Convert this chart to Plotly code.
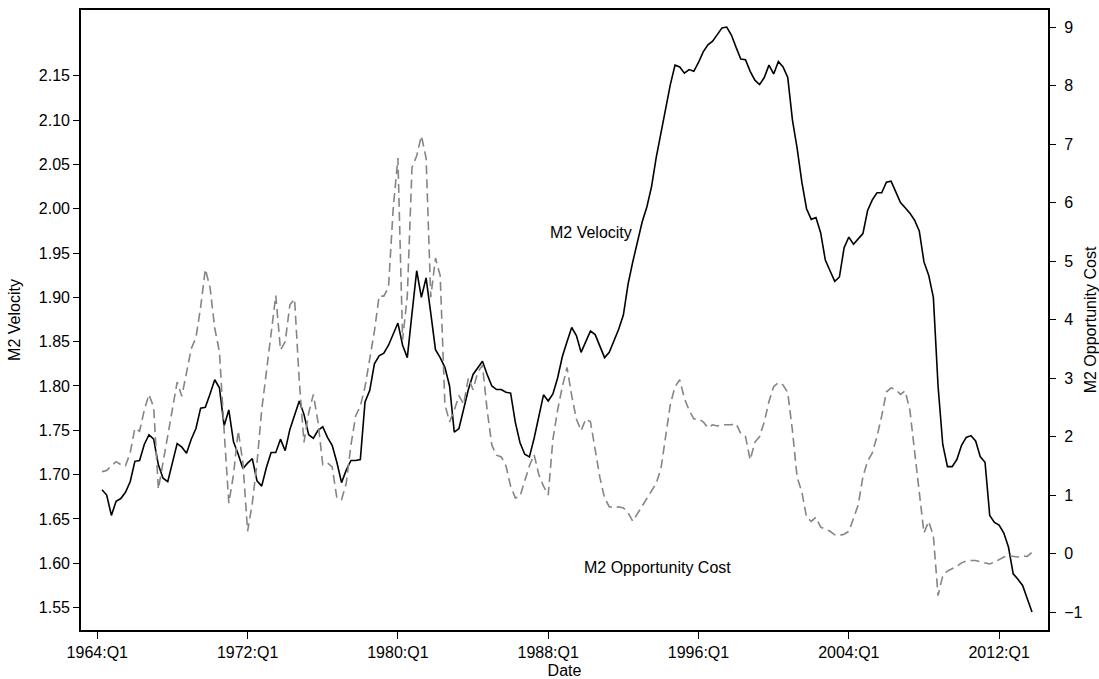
import plotly.graph_objects as go

# Quarterly sample: 1964:Q2 through 2013:Q4
start_year, start_quarter, n_obs = 1964, 2, 199
quarters = []
y, q = start_year, start_quarter
for _ in range(n_obs):
    quarters.append(f"{y}:Q{q}")
    q += 1
    if q > 4:
        q, y = 1, y + 1

m2_velocity = [
    1.683, 1.677, 1.654, 1.670, 1.673, 1.680, 1.692, 1.715, 1.716, 1.734,
    1.745, 1.740, 1.711, 1.696, 1.692, 1.714, 1.735, 1.731, 1.724, 1.740,
    1.752, 1.775, 1.776, 1.791, 1.807, 1.798, 1.755, 1.773, 1.737, 1.723,
    1.707, 1.713, 1.718, 1.693, 1.687, 1.708, 1.725, 1.725, 1.740, 1.727,
    1.751, 1.767, 1.783, 1.768, 1.745, 1.741, 1.750, 1.754, 1.742, 1.733,
    1.714, 1.691, 1.705, 1.716, 1.716, 1.717, 1.782, 1.795, 1.825, 1.834,
    1.837, 1.846, 1.859, 1.871, 1.846, 1.832, 1.882, 1.930, 1.900, 1.922,
    1.882, 1.841, 1.832, 1.821, 1.800, 1.748, 1.752, 1.775, 1.796, 1.813,
    1.821, 1.828, 1.813, 1.800, 1.796, 1.796, 1.793, 1.792, 1.759, 1.736,
    1.723, 1.720, 1.741, 1.764, 1.790, 1.783, 1.791, 1.809, 1.833, 1.850,
    1.866, 1.857, 1.838, 1.850, 1.862, 1.858, 1.845, 1.832, 1.838, 1.850,
    1.864, 1.880, 1.915, 1.940, 1.962, 1.985, 2.002, 2.025, 2.058, 2.085,
    2.110, 2.140, 2.162, 2.160, 2.153, 2.157, 2.155, 2.165, 2.177, 2.185,
    2.189, 2.196, 2.204, 2.205, 2.196, 2.182, 2.169, 2.168, 2.155, 2.145,
    2.140, 2.148, 2.162, 2.152, 2.166, 2.160, 2.148, 2.100, 2.068, 2.030,
    2.000, 1.988, 1.990, 1.973, 1.942, 1.930, 1.918, 1.923, 1.956, 1.968,
    1.960, 1.966, 1.972, 1.998, 2.010, 2.018, 2.018, 2.030, 2.031, 2.019,
    2.007, 2.001, 1.995, 1.987, 1.975, 1.940, 1.925, 1.900, 1.800, 1.734,
    1.709, 1.709, 1.717, 1.733, 1.742, 1.744, 1.738, 1.720, 1.714, 1.654,
    1.646, 1.643, 1.634, 1.618, 1.588, 1.582, 1.575, 1.560, 1.545,
]

m2_opportunity_cost = [
    1.40, 1.42, 1.50, 1.57, 1.52, 1.50, 1.72, 2.14, 2.09, 2.45,
    2.72, 2.50, 1.10, 1.55, 2.03, 2.45, 2.93, 2.69, 3.11, 3.50,
    3.69, 4.21, 4.86, 4.55, 3.85, 3.45, 2.10, 0.86, 1.35, 2.10,
    1.55, 0.38, 0.86, 1.55, 2.45, 3.14, 3.75, 4.41, 3.48, 3.62,
    4.25, 4.35, 2.95, 1.90, 2.40, 2.72, 2.24, 1.52, 1.55, 1.48,
    0.95, 0.92, 1.20, 1.85, 2.35, 2.52, 2.85, 3.35, 3.80, 4.40,
    4.40, 4.55, 5.90, 6.76, 3.65, 4.40, 6.60, 6.80, 7.14, 6.76,
    4.38, 5.05, 4.75, 2.55, 2.25, 2.45, 2.70, 2.55, 3.00, 2.80,
    3.10, 3.22, 2.45, 1.85, 1.68, 1.65, 1.50, 1.15, 0.95, 0.98,
    1.25, 1.50, 1.69, 1.35, 1.15, 1.00, 1.95, 2.45, 2.85, 3.18,
    2.70, 2.30, 2.10, 2.30, 2.25, 1.75, 1.30, 0.95, 0.80, 0.78,
    0.80, 0.78, 0.70, 0.55, 0.68, 0.80, 0.92, 1.05, 1.20, 1.45,
    2.00, 2.55, 2.85, 2.97, 2.65, 2.45, 2.30, 2.30, 2.25, 2.15,
    2.20, 2.18, 2.20, 2.20, 2.20, 2.22, 2.05, 2.00, 1.60, 1.90,
    2.00, 2.25, 2.60, 2.85, 2.92, 2.88, 2.75, 2.10, 1.30, 1.05,
    0.62, 0.55, 0.62, 0.45, 0.42, 0.38, 0.32, 0.31, 0.33, 0.38,
    0.60, 0.83, 1.31, 1.58, 1.72, 2.00, 2.35, 2.76, 2.83, 2.80,
    2.72, 2.78, 2.45, 1.75, 0.95, 0.35, 0.55, 0.30, -0.72, -0.38,
    -0.30, -0.26, -0.22, -0.16, -0.13, -0.12, -0.12, -0.14, -0.16, -0.18,
    -0.15, -0.10, -0.06, -0.04, -0.05, -0.06, -0.04, -0.05, 0.02,
]

date_tick_labels = ["1964:Q1", "1972:Q1", "1980:Q1", "1988:Q1", "1996:Q1", "2004:Q1", "2012:Q1"]
velocity_ticks = [1.55, 1.60, 1.65, 1.70, 1.75, 1.80, 1.85, 1.90, 1.95, 2.00, 2.05, 2.10, 2.15]
opp_cost_ticks = [-1, 0, 1, 2, 3, 4, 5, 6, 7, 8, 9]


def quarter_to_year(label):
    yr, qt = label.split(":Q")
    return int(yr) + (int(qt) - 1) / 4.0


x_vals = [quarter_to_year(s) for s in quarters]
x_ticks = [quarter_to_year(s) for s in date_tick_labels]

FONT = "Liberation Sans, Arial, Helvetica, sans-serif"
axis_font = dict(family=FONT, size=16, color="black")

fig = go.Figure()

fig.add_trace(go.Scatter(
    x=x_vals, y=m2_velocity, mode="lines", name="M2 Velocity",
    line=dict(color="black", width=1.6), yaxis="y",
))
fig.add_trace(go.Scatter(
    x=x_vals, y=m2_opportunity_cost, mode="lines", name="M2 Opportunity Cost",
    line=dict(color="#858585", width=1.6, dash="9px,5px"), yaxis="y2",
))

# In-plot series labels
fig.add_annotation(x=1990.3, y=1.973, xref="x", yref="y", text="M2 Velocity",
                   showarrow=False, font=axis_font)
fig.add_annotation(x=1993.8, y=1.595, xref="x", yref="y", text="M2 Opportunity Cost",
                   showarrow=False, font=axis_font)

fig.update_layout(
    width=1099, height=679,
    margin=dict(l=81, r=51, t=10, b=49, autoexpand=False),
    paper_bgcolor="white", plot_bgcolor="white",
    showlegend=False,
    font=axis_font,
    xaxis=dict(
        range=[1963.1324, 2014.6016], automargin=False,
        tickvals=x_ticks, ticktext=date_tick_labels,
        ticks="outside", ticklen=7, tickwidth=1.2, tickcolor="black",
        ticklabelstandoff=0,
        showline=True, linecolor="black", linewidth=1.6, mirror=True,
        showgrid=False, zeroline=False,
        title=dict(text="Date", font=axis_font, standoff=9),
        tickfont=axis_font,
    ),
    yaxis=dict(
        range=[1.5247, 2.2242], automargin=False,
        tickvals=velocity_ticks, ticktext=[f"{v:.2f}" for v in velocity_ticks],
        ticks="outside", ticklen=6, tickwidth=1.2, tickcolor="black",
        showline=True, linecolor="black", linewidth=1.6, mirror=True,
        showgrid=False, zeroline=False,
        title=dict(text="M2 Velocity", font=axis_font, standoff=14),
        tickfont=axis_font,
    ),
    yaxis2=dict(
        range=[-1.3077, 9.2906], automargin=False,
        overlaying="y", side="right",
        tickvals=opp_cost_ticks,
        ticks="outside", ticklen=7, tickwidth=1.2, tickcolor="black",
        ticklabelstandoff=5,
        showline=False, showgrid=False, zeroline=False,
        title=dict(text="M2 Opportunity Cost", font=axis_font, standoff=9),
        tickfont=axis_font,
    ),
)

fig.write_html("out.html")
